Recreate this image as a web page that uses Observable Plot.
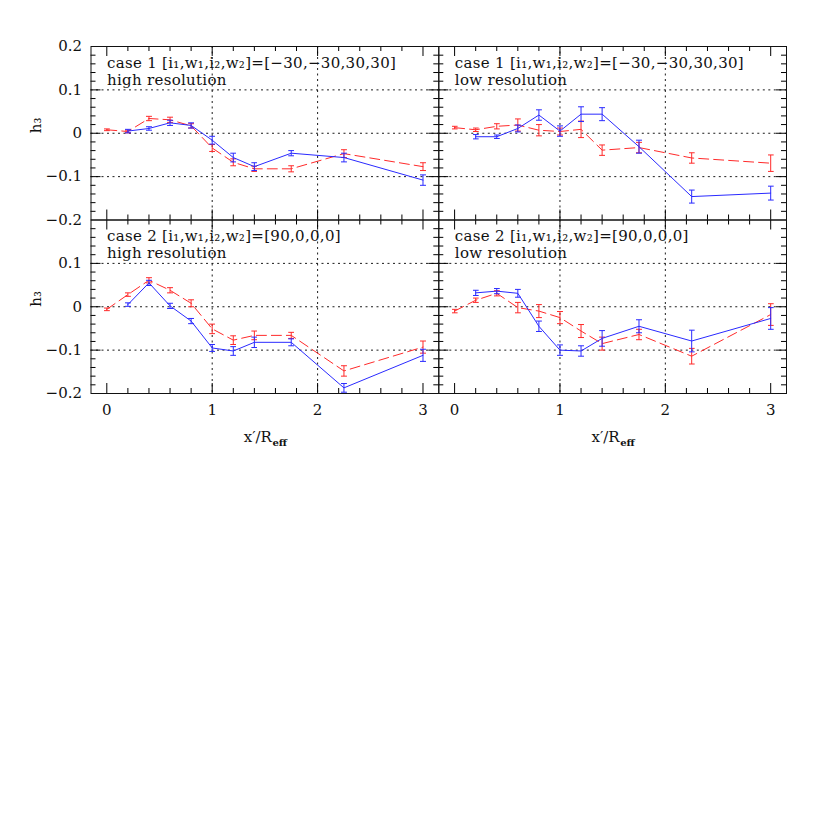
<!DOCTYPE html>
<html><head><meta charset="utf-8">
<script src="https://cdn.jsdelivr.net/npm/d3@7"></script>
<script src="https://cdn.jsdelivr.net/npm/@observablehq/plot@0.6"></script>
<style>
body{margin:0;background:#fff;}
#chart{position:relative;width:830px;height:830px;}
#chart svg{position:absolute;left:0;top:0;}
</style></head><body><div id="chart"></div>
<script>
// ---- data ----
const xRed  = [0, 0.2, 0.4, 0.6, 0.8, 1.0, 1.2, 1.4, 1.75, 2.25, 3.0];
const xBlue = [0.2, 0.4, 0.6, 0.8, 1.0, 1.2, 1.4, 1.75, 2.25, 3.0];

// case 1, high resolution
const red1     = [0.008, 0.004, 0.034, 0.031, 0.017, -0.034, -0.067, -0.082, -0.082, -0.047, -0.077];
const redErr1  = [0.002, 0.003, 0.005, 0.006, 0.005, 0.008, 0.008, 0.006, 0.007, 0.009, 0.009];
const blue1    = [0.005, 0.011, 0.024, 0.018, -0.016, -0.056, -0.077, -0.046, -0.056, -0.108];
const blueErr1 = [0.004, 0.004, 0.006, 0.006, 0.009, 0.010, 0.009, 0.006, 0.010, 0.012];
// case 1, low resolution
const red2     = [0.013, 0.008, 0.016, 0.019, 0.007, 0.004, 0.009, -0.039, -0.033, -0.057, -0.069];
const redErr2  = [0.003, 0.004, 0.006, 0.014, 0.013, 0.008, 0.019, 0.012, 0.012, 0.012, 0.019];
const blue2    = [-0.008, -0.008, 0.011, 0.042, 0.005, 0.044, 0.044, -0.031, -0.146, -0.138];
const blueErr2 = [0.005, 0.004, 0.008, 0.012, 0.012, 0.017, 0.015, 0.015, 0.015, 0.016];
// case 2, high resolution
const red3     = [-0.006, 0.028, 0.061, 0.038, 0.008, -0.051, -0.077, -0.066, -0.066, -0.148, -0.093];
const redErr3  = [0.003, 0.004, 0.006, 0.006, 0.008, 0.011, 0.010, 0.010, 0.007, 0.012, 0.014];
const blue3    = [0.005, 0.055, 0.002, -0.033, -0.095, -0.102, -0.082, -0.082, -0.187, -0.112];
const blueErr3 = [0.004, 0.006, 0.006, 0.006, 0.008, 0.010, 0.012, 0.008, 0.010, 0.014];
// case 2, low resolution
const red4     = [-0.010, 0.015, 0.031, -0.002, -0.010, -0.025, -0.056, -0.085, -0.064, -0.114, -0.018];
const redErr4  = [0.004, 0.005, 0.006, 0.012, 0.015, 0.014, 0.015, 0.015, 0.012, 0.018, 0.025];
const blue4    = [0.032, 0.036, 0.031, -0.045, -0.100, -0.102, -0.073, -0.045, -0.079, -0.027];
const blueErr4 = [0.006, 0.006, 0.009, 0.012, 0.012, 0.012, 0.018, 0.015, 0.025, 0.025];

const titles = ["case 1 [i₁,w₁,i₂,w₂]=[−30,−30,30,30]", "case 2 [i₁,w₁,i₂,w₂]=[90,0,0,0]"];
const subtitles = ["high resolution", "low resolution"];

const xTickLabels = [0, 1, 2, 3];
const xMajor = [0, 1, 2, 3];
const xMinor = [0.2, 0.4, 0.6, 0.8, 1.2, 1.4, 1.6, 1.8, 2.2, 2.4, 2.6, 2.8];
const yMajor = [-0.1, 0, 0.1];
const yMinor = [-0.18, -0.16, -0.14, -0.12, -0.08, -0.06, -0.04, -0.02, 0.02, 0.04, 0.06, 0.08, 0.12, 0.14, 0.16, 0.18];
const yTickLabelsTop = [0.2, 0.1, 0, -0.1, -0.2];
const yTickLabelsBottom = [0.1, 0, -0.1, -0.2];
const gridX = [1, 2];
const gridY = [-0.1, 0, 0.1];

// ---- layout ----
const W = 830, H = 830;
const colEdges = [90.5, 438.3, 786];
const rowEdges = [46, 219.5, 393];
const FONT = "DejaVu Serif";
const RED = "#ff2a2a", BLUE = "#2a2aff";

const panels = [
  {row:0, col:0, title:titles[0], sub:subtitles[0], red:red1, redErr:redErr1, blue:blue1, blueErr:blueErr1},
  {row:0, col:1, title:titles[0], sub:subtitles[1], red:red2, redErr:redErr2, blue:blue2, blueErr:blueErr2},
  {row:1, col:0, title:titles[1], sub:subtitles[0], red:red3, redErr:redErr3, blue:blue3, blueErr:blueErr3},
  {row:1, col:1, title:titles[1], sub:subtitles[1], red:red4, redErr:redErr4, blue:blue4, blueErr:blueErr4}
];

const fmtY = d => d === 0 ? "0" : d3.format(".1f")(d).replace("-", "−");
const chart = document.getElementById("chart");

for (const p of panels) {
  const mL = colEdges[p.col], mR = W - colEdges[p.col + 1];
  const mT = rowEdges[p.row], mB = H - rowEdges[p.row + 1];
  const pw = W - mL - mR, ph = H - mT - mB;
  const redData = xRed.map((x, i) => ({x, y: p.red[i], e: p.redErr[i]}));
  const blueData = xBlue.map((x, i) => ({x, y: p.blue[i], e: p.blueErr[i]}));

  const marks = [
    Plot.ruleY(gridY, {y: d => d, stroke: "#000", strokeWidth: 0.9, strokeDasharray: "2,3.5"}),
    Plot.ruleX(gridX, {x: d => d, stroke: "#000", strokeWidth: 0.9, strokeDasharray: "2,3.5"}),
    // ticks (inward, all sides)
    Plot.tickX(xMajor, {x: d => d, insetTop: ph - 10, stroke: "#000"}),
    Plot.tickX(xMajor, {x: d => d, insetBottom: ph - 10, stroke: "#000"}),
    Plot.tickX(xMinor, {x: d => d, insetTop: ph - 5, stroke: "#000"}),
    Plot.tickX(xMinor, {x: d => d, insetBottom: ph - 5, stroke: "#000"}),
    Plot.tickY(yMajor, {y: d => d, insetRight: pw - 10, stroke: "#000"}),
    Plot.tickY(yMajor, {y: d => d, insetLeft: pw - 10, stroke: "#000"}),
    Plot.tickY(yMinor, {y: d => d, insetRight: pw - 5, stroke: "#000"}),
    Plot.tickY(yMinor, {y: d => d, insetLeft: pw - 5, stroke: "#000"}),
    // red dashed series
    Plot.line(redData, {x: "x", y: "y", stroke: RED, strokeWidth: 1, strokeDasharray: "10,5"}),
    Plot.link(redData, {x1: "x", x2: "x", y1: d => d.y - d.e, y2: d => d.y + d.e, stroke: RED, strokeWidth: 1, markerStart: "tick", markerEnd: "tick"}),
    // blue solid series
    Plot.line(blueData, {x: "x", y: "y", stroke: BLUE, strokeWidth: 1}),
    Plot.link(blueData, {x1: "x", x2: "x", y1: d => d.y - d.e, y2: d => d.y + d.e, stroke: BLUE, strokeWidth: 1, markerStart: "tick", markerEnd: "tick"}),
    Plot.frame({stroke: "#111", strokeWidth: 1}),
    // annotations
    Plot.text([p.title], {text: d => d, frameAnchor: "top-left", dx: 16, dy: 16.5, textAnchor: "start", lineAnchor: "middle", fontSize: 15, fill: "#111"}),
    Plot.text([p.sub], {text: d => d, frameAnchor: "top-left", dx: 16, dy: 33.5, textAnchor: "start", lineAnchor: "middle", fontSize: 15, fill: "#111"})
  ];

  if (p.col === 0) {
    const labs = p.row === 0 ? yTickLabelsTop : yTickLabelsBottom;
    marks.push(Plot.text(labs, {y: d => d, text: fmtY, frameAnchor: "left", dx: -9, textAnchor: "end", lineAnchor: "middle", fontSize: 15, fill: "#111"}));
    marks.push(Plot.text(["h₃"], {text: d => d, frameAnchor: "left", dx: -55, rotate: -90, lineAnchor: "middle", fontSize: 15, fill: "#111"}));
  }
  if (p.row === 1) {
    marks.push(Plot.text(xTickLabels, {x: d => d, text: d => String(d), frameAnchor: "bottom", dy: 17, lineAnchor: "middle", fontSize: 15, fill: "#111"}));
    marks.push(Plot.text(["x′/R"], {text: d => d, frameAnchor: "bottom", dx: 7, dy: 44, textAnchor: "end", lineAnchor: "middle", fontSize: 15, fill: "#111"}));
    marks.push(Plot.text(["eff"], {text: d => d, frameAnchor: "bottom", dx: 7.5, dy: 49, textAnchor: "start", lineAnchor: "middle", fontSize: 10, fontWeight: "bold", fill: "#111"}));
  }

  const svg = Plot.plot({
    width: W, height: H,
    marginLeft: mL, marginRight: mR, marginTop: mT, marginBottom: mB,
    x: {domain: [-0.15, 3.15], axis: null},
    y: {domain: [-0.2, 0.2], axis: null},
    style: {background: "transparent", fontFamily: FONT, fontSize: "15px", overflow: "visible"},
    marks
  });
  // widen the panel annotations slightly, like the reference's wide stroke font
  svg.querySelectorAll("text").forEach(t => {
    const s = t.textContent;
    if (s.startsWith("case") || s.endsWith("resolution")) t.setAttribute("letter-spacing", "0.3");
  });
  chart.appendChild(svg);
}
</script></body></html>
